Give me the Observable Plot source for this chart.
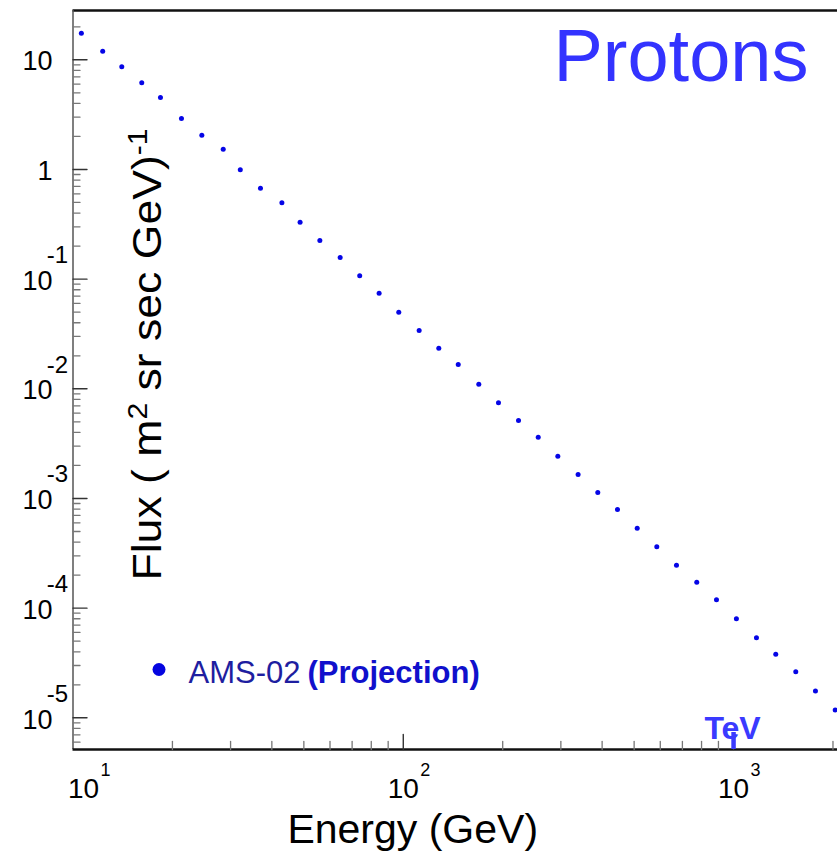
<!DOCTYPE html>
<html>
<head>
<meta charset="utf-8">
<script src="https://cdn.jsdelivr.net/npm/d3@7"></script>
<script src="https://cdn.jsdelivr.net/npm/@observablehq/plot@0.6"></script>
<style>
  html, body { margin: 0; padding: 0; background: #fff; }
</style>
</head>
<body>
<div id="chart"></div>
<script>
// ---- data ----
const energy = [10.6, 12.3, 14.05, 16.15, 18.4, 21.3, 24.55, 28.5, 32.1, 36.95,
  42.9, 48.7, 55.9, 64.4, 73.8, 84.5, 96.9, 111.7, 128.1, 146.7,
  169.3, 194.2, 223.3, 256.2, 293.7, 338.3, 388.1, 445.2, 510.8, 585.6,
  671.7, 773.7, 887.8, 1020, 1173, 1342, 1543, 1770, 2031];
const flux = [17.5, 11.98, 8.63, 6.17, 4.53, 2.92, 2.05, 1.53, 0.993, 0.675,
  0.497, 0.330, 0.225, 0.1575, 0.1073, 0.0744, 0.0499, 0.0340, 0.02346, 0.01666,
  0.01101, 0.00746, 0.00514, 0.00362, 0.00243, 0.001654, 0.001134, 0.000793, 0.000536, 0.000363,
  0.000246, 0.0001724, 0.0001192, 0.0000800, 0.0000537, 0.0000380, 0.0000263, 0.0000176, 0.0000118];

const xDomain = [10, 2064];
const yDomain = [5.14e-6, 28.15];

const yMajor = [10, 1, 0.1, 0.01, 1e-3, 1e-4, 1e-5];
const yBase = ["10", "1", "10", "10", "10", "10", "10"];
const yExp = ["", "", "-1", "-2", "-3", "-4", "-5"];

const xMajor = [10, 100, 1000];
const xBase = ["10", "10", "10"];
const xExp = ["1", "2", "3"];

const titleText = "Protons";
const seriesName = "AMS-02";
const seriesNote = "(Projection)";
const markerText = "TeV";
const markerEnergy = [1000];
const xTitle = "Energy (GeV)";
const yTitleParts = ["Flux ( m", "2", " sr sec GeV)", "-1"];

// ---- minor tick positions ----
const yMinor = [];
for (let e = -6; e <= 1; e++) for (let m = 2; m <= 9; m++) {
  const v = m * Math.pow(10, e);
  if (v >= yDomain[0] && v <= yDomain[1]) yMinor.push(v);
}
const xMinor = [];
for (let e = 1; e <= 3; e++) for (let m = 2; m <= 9; m++) {
  const v = m * Math.pow(10, e);
  if (v >= xDomain[0] && v <= xDomain[1]) xMinor.push(v);
}

const points = energy.map((e, i) => ({energy: e, flux: flux[i]}));
const FONT = "'Liberation Sans', Arial, Helvetica, sans-serif";
const tickShape = {draw(ctx, l) { ctx.moveTo(0, 0); ctx.lineTo(0, -l); }};
const LA = "bottom"; // baseline sits exactly at the anchor

const svg = Plot.plot({
  width: 837,
  height: 854,
  marginTop: 10,
  marginBottom: 105,
  marginLeft: 72.5,
  marginRight: 0,
  x: {type: "log", domain: xDomain, axis: null},
  y: {type: "log", domain: yDomain, axis: null},
  style: {fontFamily: FONT, background: "#fff", color: "#000"},
  marks: [
    // frame lines
    Plot.ruleY([yDomain[1]], {stroke: "#111", strokeWidth: 2.6}),
    Plot.ruleX([xDomain[0]], {stroke: "#555", strokeWidth: 1.5}),
    Plot.ruleY([yDomain[0]], {stroke: "#111", strokeWidth: 2.6}),

    // ticks (pointing inward)
    Plot.vectorY(yMinor, {frameAnchor: "left", length: 7, rotate: 90, anchor: "start", shape: tickShape, stroke: "#777", strokeWidth: 1.3, fill: "none"}),
    Plot.vectorY(yMajor, {frameAnchor: "left", length: 14, rotate: 90, anchor: "start", shape: tickShape, stroke: "#333", strokeWidth: 1.4, fill: "none"}),
    Plot.vectorX(xMinor, {frameAnchor: "bottom", length: 8, rotate: 0, anchor: "start", shape: tickShape, stroke: "#777", strokeWidth: 1.3, fill: "none"}),
    Plot.vectorX(xMajor.slice(1), {frameAnchor: "bottom", length: 15, rotate: 0, anchor: "start", shape: tickShape, stroke: "#333", strokeWidth: 1.4, fill: "none"}),

    // y tick labels
    Plot.text(yMajor, {y: d => d, frameAnchor: "left", text: d => yBase[yMajor.indexOf(d)], textAnchor: "end", lineAnchor: LA, dx: -20.5, dy: 10.7, fontSize: 27, fill: "#000"}),
    Plot.text(yMajor, {y: d => d, frameAnchor: "left", text: d => yExp[yMajor.indexOf(d)], textAnchor: "end", lineAnchor: LA, dx: -5, dy: -16, fontSize: 24, fill: "#000"}),

    // x tick labels
    Plot.text(xMajor.slice(0, 1), {x: d => d, frameAnchor: "bottom", text: d => xBase[xMajor.indexOf(d)], lineAnchor: LA, dx: 10.5, dy: 48, fontSize: 28, fill: "#000"}),
    Plot.text(xMajor.slice(0, 1), {x: d => d, frameAnchor: "bottom", text: d => xExp[xMajor.indexOf(d)], textAnchor: "start", lineAnchor: LA, dx: 27.5, dy: 26, fontSize: 18, fill: "#000"}),
    Plot.text(xMajor.slice(1), {x: d => d, frameAnchor: "bottom", text: d => xBase[xMajor.indexOf(d)], lineAnchor: LA, dy: 48, fontSize: 28, fill: "#000"}),
    Plot.text(xMajor.slice(1), {x: d => d, frameAnchor: "bottom", text: d => xExp[xMajor.indexOf(d)], textAnchor: "start", lineAnchor: LA, dx: 17, dy: 26, fontSize: 18, fill: "#000"}),

    // axis titles
    Plot.text([xTitle], {frameAnchor: "bottom", text: d => d, lineAnchor: LA, dx: -42.5, dy: 93, fontSize: 41, fill: "#000"}),
    Plot.text([yTitleParts.join("")], {frameAnchor: "left", text: d => d, rotate: -90, textAnchor: "start", lineAnchor: LA, dx: 87.5, dy: 200.5, fontSize: 40, fill: "#000"}),

    // TeV marker
    Plot.ruleX(markerEnergy, {stroke: "#3a3aff", strokeWidth: 4.5, insetTop: 722}),
    Plot.text(markerEnergy, {x: d => d, frameAnchor: "bottom", text: () => markerText, lineAnchor: LA, dx: -1, dy: -11, fontSize: 32, fontWeight: "bold", fill: "#3a3aff"}),

    // data
    Plot.dot(points, {x: "energy", y: "flux", r: 2.5, fill: "#0505e6", stroke: "none"}),

    // legend
    Plot.dot([seriesName], {frameAnchor: "bottom-left", dx: 86, dy: -80, r: 6.5, fill: "#0505e0", stroke: "none"}),
    Plot.text([seriesName], {frameAnchor: "bottom-left", text: d => d, textAnchor: "start", lineAnchor: LA, dx: 115.5, dy: -67, fontSize: 31, fill: "#1e1ea0"}),
    Plot.text([seriesNote], {frameAnchor: "bottom-left", text: d => d, textAnchor: "start", lineAnchor: LA, dx: 234.5, dy: -67, fontSize: 31, fontWeight: "bold", fill: "#1010cc"}),

    // title
    Plot.text([titleText], {frameAnchor: "top-right", text: d => d, textAnchor: "end", lineAnchor: LA, dx: -29, dy: 70, fontSize: 74, fill: "#3333ff"})
  ]
});

// y-axis title with real superscripts
const full = yTitleParts.join("");
const yt = Array.from(svg.querySelectorAll("text")).find(n => n.textContent === full);
if (yt) {
  while (yt.firstChild) yt.removeChild(yt.firstChild);
  const NS = "http://www.w3.org/2000/svg";
  const mk = (txt, size, dy) => {
    const ts = document.createElementNS(NS, "tspan");
    ts.textContent = txt;
    if (size) ts.setAttribute("font-size", size);
    if (dy) ts.setAttribute("dy", dy);
    yt.appendChild(ts);
  };
  mk(yTitleParts[0], null, null);
  mk(yTitleParts[1], 27, -14);
  mk(yTitleParts[2], null, 14);
  mk(yTitleParts[3], 27, -14);
  yt.setAttribute("textLength", 452);
  yt.setAttribute("lengthAdjust", "spacingAndGlyphs");
}

document.getElementById("chart").appendChild(svg);
</script>
</body>
</html>
